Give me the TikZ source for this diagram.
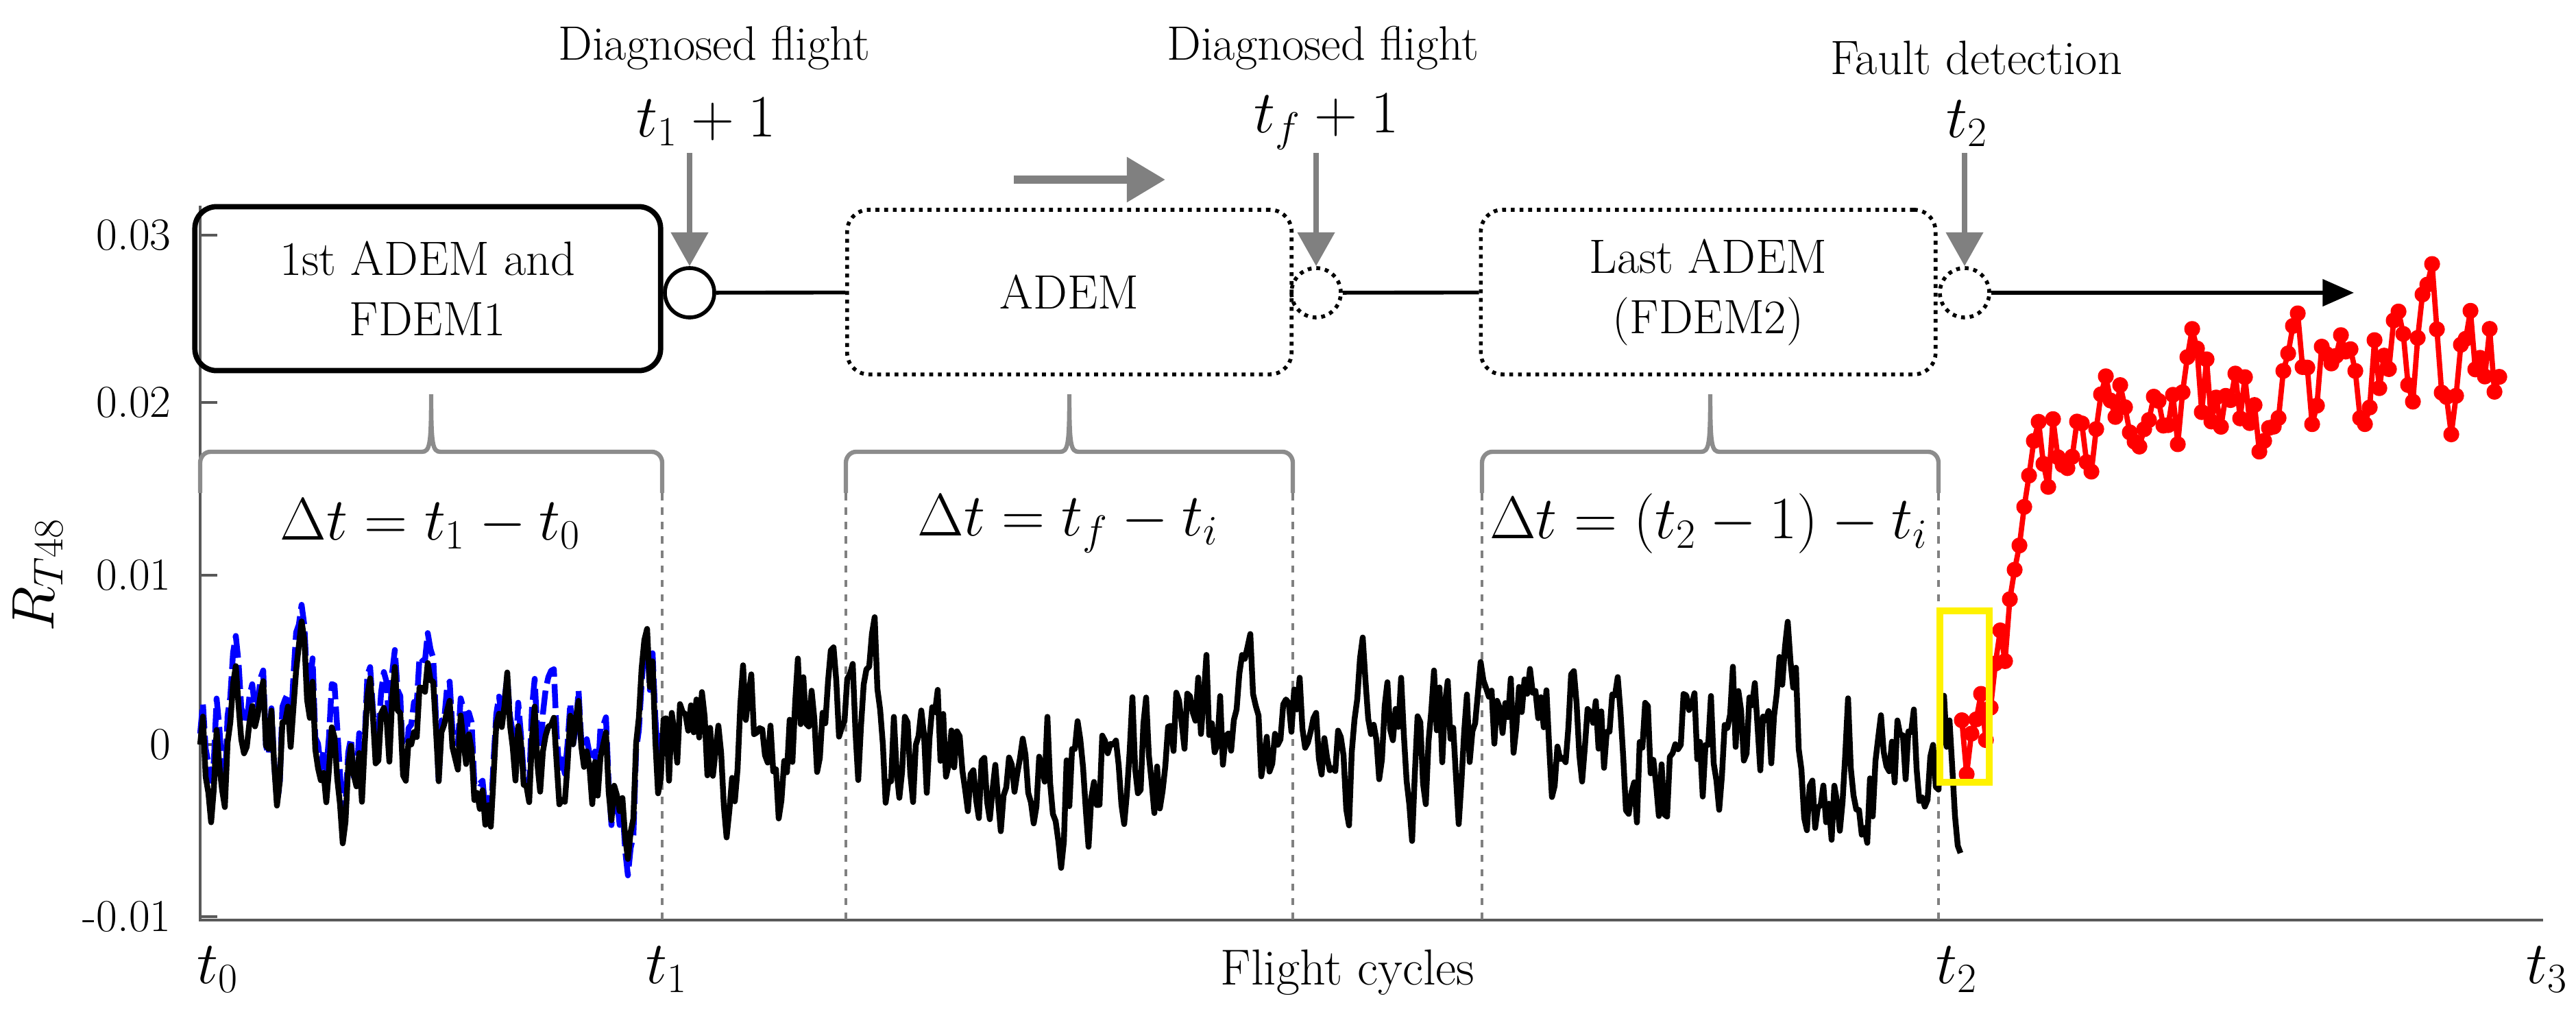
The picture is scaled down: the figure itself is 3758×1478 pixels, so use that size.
\documentclass[tikz,border=0pt]{standalone}
\usetikzlibrary{arrows.meta,shapes.geometric}
\begin{document}
\begin{tikzpicture}[x=0.01cm,y=-0.01cm,
  box/.style={draw,rounded corners=9pt,align=center,font=\fontsize{20}{25}\selectfont,inner sep=0pt},
  solidbox/.style={box,line width=2.2pt},
  dotbox/.style={box,line width=1.6pt,dotted},
  ring/.style={draw,circle,minimum size=0.72cm,inner sep=0pt,line width=1.6pt},
  garrow/.style={draw=gray,line width=2.4pt,-{Triangle[length=14pt,width=15pt]}},
  brace/.style={draw=gray!90,line width=1.8pt},
  vdash/.style={draw=gray,line width=1.2pt,dashed},
  lbl/.style={font=\fontsize{20}{24}\selectfont},
  tick/.style={font=\fontsize{19}{22}\selectfont,anchor=east},
  mth/.style={font=\fontsize{25}{30}\selectfont}]
\useasboundingbox (0,0) rectangle (3758,1478);

% axes
\draw[gray!70!black,line width=1.2pt] (292,300) -- (292,1342) -- (3710,1342);
\foreach \yy/\tx in {343/0.03,587/0.02,839/0.01,1086/0,1337/-0.01}{
  \draw[gray!70!black,line width=1.2pt] (292,\yy) -- (317,\yy);
  \node[tick] at (262,\yy) {\tx};
}
\node[mth,rotate=90] (ylab) at (55,839) {$R_{T48}$};
\node[mth] (x0) at (318,1414) {$t_0$};
\node[mth] (x1) at (973,1414) {$t_1$};
\node[mth] (x2) at (2855,1414) {$t_2$};
\node[mth,anchor=east] (x3) at (3758,1414) {$t_3$};
\node[font=\fontsize{21}{25}\selectfont] (xlab) at (1966,1418) {Flight cycles};

% dashed verticals
\foreach \xx in {966,1234,1886,2162,2828}{\draw[vdash] (\xx,719) -- (\xx,1342);}

% braces
\foreach \xa/\xb in {292/966,1234/1886,2162/2828}{
  \pgfmathsetmacro\xm{(\xa+\xb)/2}
  \draw[brace] (\xa,719) -- (\xa,675) to[out=90,in=180] (\xa+15,659) -- (\xm-14,659)
     .. controls (\xm-2,659) and (\xm,650) .. (\xm,575)
     .. controls (\xm,650) and (\xm+2,659) .. (\xm+14,659) -- (\xb-15,659)
     to[out=0,in=90] (\xb,675) -- (\xb,719);
}
\node[mth] (d1) at (628,764) {$\Delta t = t_1 - t_0$};
\node[mth] (d2) at (1558,764) {$\Delta t = t_f - t_i$};
\node[mth] (d3) at (2493,764) {$\Delta t = (t_2-1) - t_i$};

% boxes
\node[solidbox,minimum width=6.79cm,minimum height=2.39cm] (b1) at (624,421) {1st ADEM and\\FDEM1};
\node[dotbox,minimum width=6.48cm,minimum height=2.4cm] (b2) at (1560,426) {ADEM};
\node[dotbox,minimum width=6.63cm,minimum height=2.4cm] (b3) at (2492,426) {Last ADEM\\(FDEM2)};
\node[ring] (c1) at (1006,427) {};
\node[ring,dotted] (c2) at (1920,427) {};
\node[ring,dotted] (c3) at (2866,427) {};
\coordinate (end) at (3434,427);
\draw[line width=1.6pt] (c1) -- (b2);
\draw[line width=1.6pt] (c2) -- (b3);
\draw[line width=1.6pt,-{Triangle[length=13pt,width=11pt]}] (c3) -- (end);

% top labels
\node[lbl] (l1) at (1042,70) {Diagnosed flight};
\node[mth] (t1) at (1030,178) {$t_1+1$};
\node[lbl] (l2) at (1930,70) {Diagnosed flight};
\node[mth] (tf) at (1935,178) {$t_f+1$};
\node[lbl] (l3) at (2883,84) {Fault detection};
\node[mth] (t2) at (2870,180) {$t_2$};
\coordinate (a1) at (1006,223);
\coordinate (a2) at (1920,223);
\coordinate (a3) at (2866,223);
\draw[garrow] (a1) -- (c1.north);
\draw[garrow] (a2) -- (c2.north);
\draw[garrow] (a3) -- (c3.north);
\coordinate (h1) at (1479,262);
\coordinate (h2) at (1700,262);
\draw[draw=gray,line width=3.4pt,-{Triangle[length=16pt,width=18pt]}] (h1) -- (h2);

% data
\pgfmathsetseed{5}
\xdef\yv{0}\xdef\ob{-15}
\xdef\bpath{(292,1086)}\xdef\blpath{(292,1070)}
\foreach \i in {1,...,642}{
  \pgfmathsetmacro\xa{292+4*\i}
  \pgfmathsetmacro\ny{0.7*\yv+85*rand}
  \pgfmathsetmacro\nob{0.8*\ob-6+22*rand}
  \pgfmathsetmacro\yb{1086-(\ny)}
  \pgfmathsetmacro\ybl{1086-(\ny)+(\nob)}
  \xdef\yv{\ny}\xdef\ob{\nob}
  \xdef\bpath{\bpath -- (\xa,\yb)}
  \ifnum\i<169 \xdef\blpath{\blpath -- (\xa,\ybl)}\fi
}
\edef\tmp{\noexpand\draw[blue,line width=2.4pt,line join=round,dash pattern=on 10pt off 3pt] \blpath;}\tmp
\edef\tmp{\noexpand\draw[black,line width=2.4pt,line join=round] \bpath;}\tmp

\xdef\dv{0}\xdef\rpts{}
\foreach \i in {0,...,112}{
  \pgfmathsetmacro\xr{2862+7*\i}
  \pgfmathsetmacro\tg{(\xr<2905)*1060+(\xr>=2905)*(\xr<2975)*(1100-(\xr-2905)*7.3)+(\xr>=2975)*(600-(\xr-2975)*0.12)}
  \pgfmathsetmacro\nd{0.65*\dv+80*rand}
  \pgfmathsetmacro\yr{\tg+\nd}
  \xdef\dv{\nd}
  \xdef\rpts{\rpts (\xr,\yr)}
}
\edef\tmp{\noexpand\draw[red,line width=2.2pt,line join=round] plot[mark=*,mark size=2.2pt,mark options={fill=red,draw=red}] coordinates {\rpts};}\tmp

\node[draw=yellow,line width=2.8pt,minimum width=0.72cm,minimum height=2.5cm,inner sep=0pt] (yb) at (2866,1016) {};
\end{tikzpicture}
\end{document}
